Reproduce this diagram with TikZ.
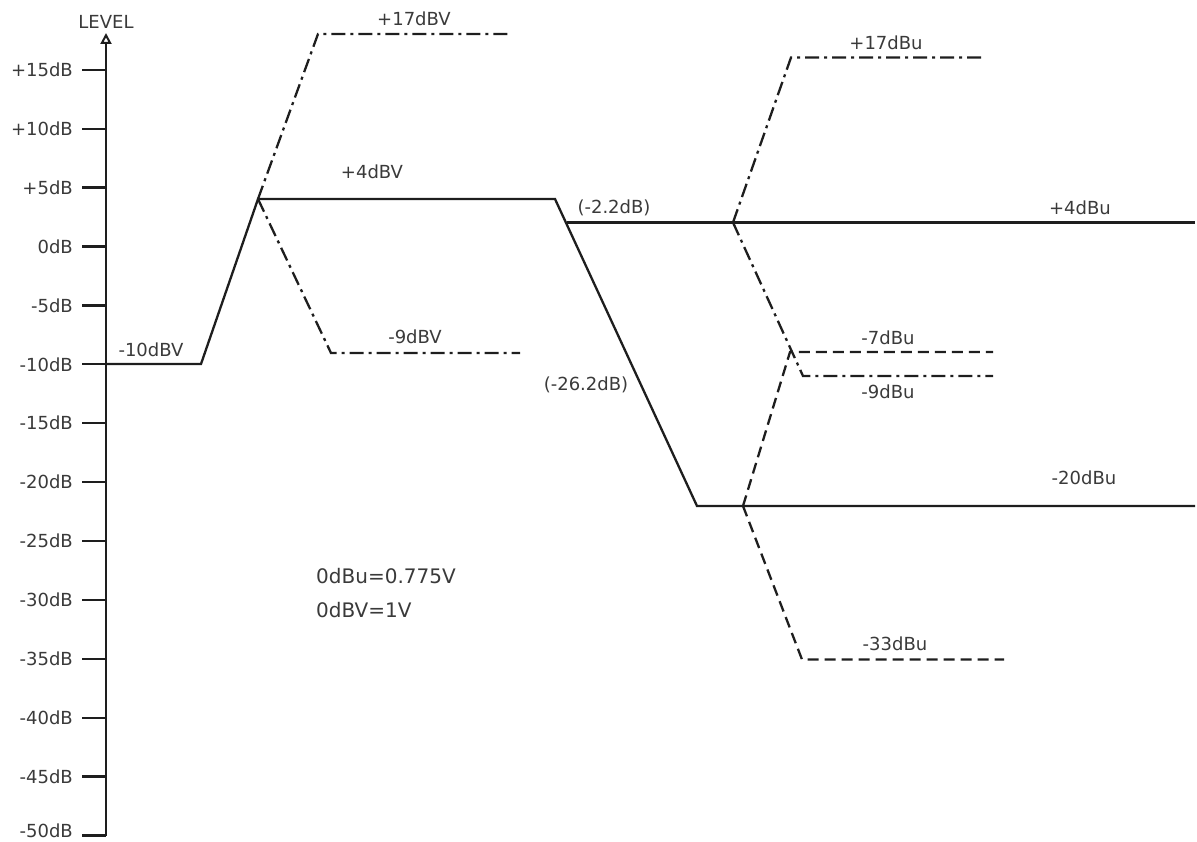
\documentclass[tikz,border=0pt]{standalone}
\usepackage{fontspec}
\setmainfont{DejaVu Sans}
\usetikzlibrary{arrows.meta}
\definecolor{txt}{HTML}{3A3A3A}
\definecolor{ink}{HTML}{1E1E1E}
\tikzset{
  lbl/.style={font=\fontsize{18}{21}\selectfont, text=txt, inner sep=0pt},
  biglbl/.style={font=\fontsize{20}{24}\selectfont, text=txt, inner sep=0pt, anchor=west},
  ticklbl/.style={lbl, anchor=east},
  solidline/.style={draw=ink, line width=2.3pt},
  dashdotline/.style={draw=ink, line width=2.3pt, dash pattern=on 14pt off 5pt on 3pt off 5pt},
  dashline/.style={draw=ink, line width=2.3pt, dash pattern=on 11pt off 6pt},
  tickline/.style={draw=ink, line width=2.3pt},
}
\begin{document}
\begin{tikzpicture}[x=1pt,y=-1pt]
\useasboundingbox (0,0) rectangle (1197,842);
% axis
\coordinate (axbot) at (106,836);
\coordinate (axtop) at (106,33);
\draw[draw=ink, line width=2.3pt, -{Triangle[open, length=11pt, width=11pt, line width=2pt]}] (axbot) -- (axtop);
\node[lbl] (level) at (106,22) {LEVEL};
% ticks
\foreach \v/\t [count=\i from 0] in {15/+15dB,10/+10dB,5/+5dB,0/0dB,-5/-5dB,-10/-10dB,-15/-15dB,-20/-20dB,-25/-25dB,-30/-30dB,-35/-35dB,-40/-40dB,-45/-45dB,-50/-50dB}{
  \pgfmathsetmacro{\yy}{246.5-11.78*\v}
  \pgfmathsetmacro{\ly}{min(\yy,831)}
  \coordinate (tk\i a) at (82,\yy);
  \coordinate (tk\i b) at (106,\yy);
  \draw[tickline] (tk\i a) -- (tk\i b);
  \node[ticklbl] (tl\i) at (73,\ly) {\t};
}
% main solid path
\coordinate (A0) at (106,364);
\coordinate (A1) at (201,364);
\coordinate (A2) at (258,199);
\coordinate (A3) at (555,199);
\coordinate (B) at (566.5,222.5);
\coordinate (C) at (697,506);
\coordinate (D) at (1195,506);
\coordinate (E) at (1195,222.5);
\draw[solidline] (A0) -- (A1) -- (A2) -- (A3) -- (C) -- (D);
\draw[solidline] (B) -- (E);
% dBV branches
\coordinate (T1) at (318,34);
\coordinate (T2) at (508,34);
\coordinate (N1) at (331,353);
\coordinate (N2) at (520,353);
\draw[dashdotline] (A2) -- (T1) -- (T2);
\draw[dashdotline] (A2) -- (N1) -- (N2);
% dBu branches from +4dBu
\coordinate (U) at (733,222.5);
\coordinate (U1) at (791,57.5);
\coordinate (U2) at (982,57.5);
\coordinate (V1) at (803,376);
\coordinate (V2) at (993,376);
\draw[dashdotline] (U) -- (U1) -- (U2);
\draw[dashdotline] (U) -- (V1) -- (V2);
% dBu branches from -20dBu
\coordinate (W) at (743,506);
\coordinate (W1) at (790,352);
\coordinate (W2) at (993,352);
\coordinate (X1) at (802,659.5);
\coordinate (X2) at (1004,659.5);
\draw[dashline] (W) -- (W1) -- (W2);
\draw[dashline] (W) -- (X1) -- (X2);
% labels
\node[lbl] (l10dbv) at (151,350) {-10dBV};
\node[lbl] (l4dbv) at (372,172) {+4dBV};
\node[lbl] (l17dbv) at (414,19) {+17dBV};
\node[lbl] (l9dbv) at (415,337) {-9dBV};
\node[lbl] (l22) at (614,208) {(-2.2dB)};
\node[lbl] (l262) at (586,385) {(-26.2dB)};
\node[lbl] (l17dbu) at (886,43) {+17dBu};
\node[lbl] (l4dbu) at (1080,208) {+4dBu};
\node[lbl] (l7dbu) at (888,338) {-7dBu};
\node[lbl] (l9dbu) at (888,392) {-9dBu};
\node[lbl] (l20dbu) at (1084,478) {-20dBu};
\node[lbl] (l33dbu) at (895,644) {-33dBu};
\node[biglbl] (n1) at (316,576) {0dBu=0.775V};
\node[biglbl] (n2) at (316,610) {0dBV=1V};
\end{tikzpicture}
\end{document}
